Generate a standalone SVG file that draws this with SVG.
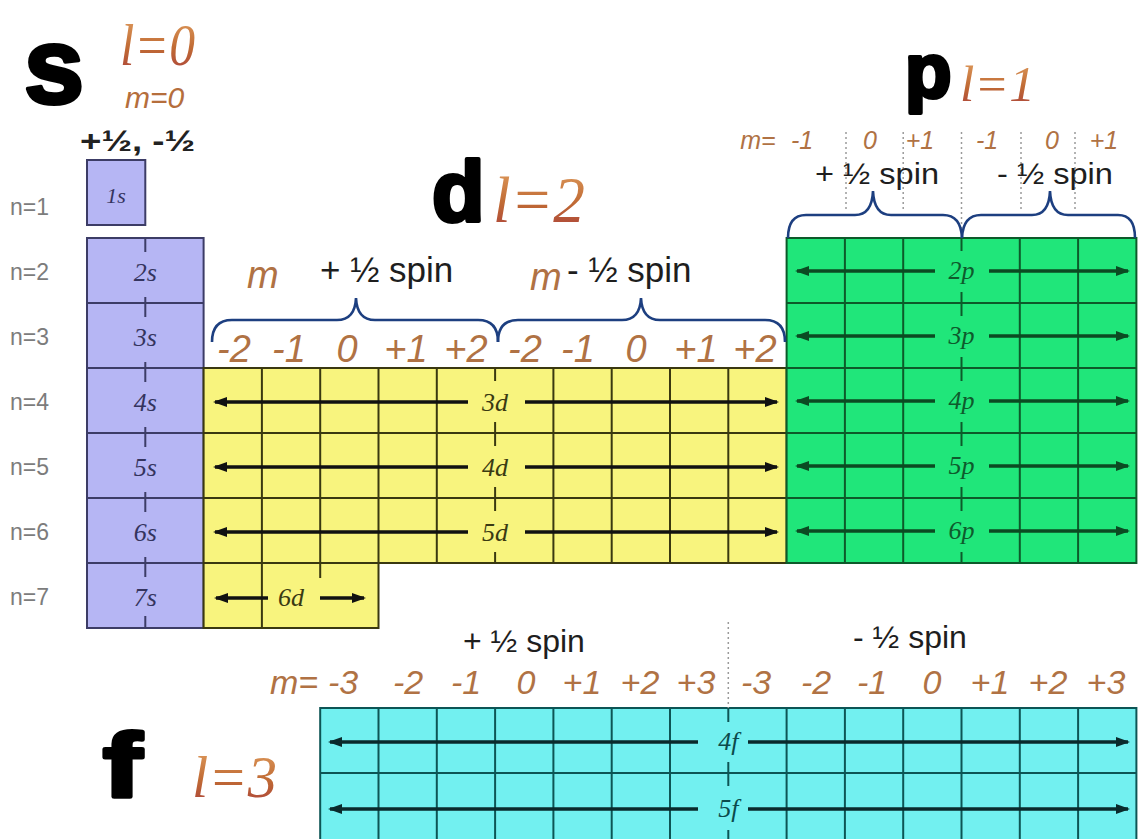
<svg xmlns="http://www.w3.org/2000/svg" width="1139" height="839" viewBox="0 0 1139 839">
<defs>
<style>
.big{font-family:"Liberation Sans",Arial,sans-serif;font-weight:bold;fill:#000;stroke:#000;stroke-width:4;stroke-linejoin:round}
.ell{font-family:"Liberation Serif","Times New Roman",serif;font-style:italic;fill:url(#lg)}
.num{font-family:"Liberation Sans",Arial,sans-serif;font-style:italic;fill:#b07244}
.spin{font-family:"Liberation Sans",Arial,sans-serif;fill:#1e1e1e}
.nlab{font-family:"Liberation Sans",Arial,sans-serif;font-size:23px;fill:#7c7c7c}
.orb{font-family:"Liberation Serif","Times New Roman",serif;font-style:italic;font-size:26px;text-anchor:middle}
.sc{fill:#b6b6f4;stroke:#3c3c66;stroke-width:2}
.sl{stroke:#3c3c66;stroke-width:2}
.dc{fill:#f8f47e;stroke:#3a3810;stroke-width:2}
.dl{stroke:#3a3810;stroke-width:2}
.pc{fill:#20e67a;stroke:#0d5a2a;stroke-width:2}
.pl{stroke:#0d5a2a;stroke-width:2}
.fc{fill:#72f0f0;stroke:#0d5555;stroke-width:2}
.fl{stroke:#0d5555;stroke-width:2}
.dot{stroke:#9a9a9a;stroke-width:1.5;stroke-dasharray:2 3}
.brace{fill:none;stroke:#1d3f80;stroke-width:2.6}
.ak{stroke:#111;stroke-width:3.6;marker-end:url(#mk)}
.ag{stroke:#0b4a22;stroke-width:3.6;marker-end:url(#mg)}
.at{stroke:#0a2a2c;stroke-width:3.6;marker-end:url(#mt)}
</style>
<linearGradient id="lg" x1="0" y1="0" x2="0" y2="1">
<stop offset="0" stop-color="#e3a262"/>
<stop offset="0.55" stop-color="#c06a34"/>
<stop offset="1" stop-color="#a83c3c"/>
</linearGradient>
<marker id="mk" viewBox="0 0 14 10" refX="12" refY="5" markerWidth="14" markerHeight="10" markerUnits="userSpaceOnUse" orient="auto"><path d="M0,0 L14,5 L0,10 z" fill="#111"/></marker>
<marker id="mg" viewBox="0 0 14 10" refX="12" refY="5" markerWidth="14" markerHeight="10" markerUnits="userSpaceOnUse" orient="auto"><path d="M0,0 L14,5 L0,10 z" fill="#0b4a22"/></marker>
<marker id="mt" viewBox="0 0 14 10" refX="12" refY="5" markerWidth="14" markerHeight="10" markerUnits="userSpaceOnUse" orient="auto"><path d="M0,0 L14,5 L0,10 z" fill="#0a2a2c"/></marker>
</defs>
<rect width="1139" height="839" fill="#fff"/>

<g id="titles">
<text class="big" x="24" y="103" font-size="108">s</text>
<text class="ell" x="120" y="65" font-size="60" textLength="75" lengthAdjust="spacingAndGlyphs">l=0</text>
<text class="num" x="125" y="108" font-size="30" style="fill:#b56e3c">m=0</text>
<text x="80" y="151" font-family="Liberation Sans, Arial, sans-serif" font-weight="bold" font-size="30" fill="#222" textLength="115" lengthAdjust="spacingAndGlyphs">+½, -½</text>
<text class="big" x="432" y="221" font-size="86">d</text>
<text class="ell" x="493" y="222" font-size="66" textLength="92" lengthAdjust="spacingAndGlyphs">l=2</text>
<text class="big" x="905" y="97" font-size="76">p</text>
<text class="ell" x="960" y="101" font-size="50" textLength="75" lengthAdjust="spacingAndGlyphs">l=1</text>
<text class="big" transform="translate(103,797) scale(1.3,1)" font-size="90">f</text>
<text class="ell" x="192" y="797" font-size="60" textLength="85" lengthAdjust="spacingAndGlyphs">l=3</text>
</g>

<g id="n-labels" class="nlab">
<text x="10" y="215">n=1</text>
<text x="10" y="280">n=2</text>
<text x="10" y="345">n=3</text>
<text x="10" y="410">n=4</text>
<text x="10" y="475">n=5</text>
<text x="10" y="540">n=6</text>
<text x="10" y="605">n=7</text>
</g>

<g id="s-block">
<rect class="sc" x="87" y="160" width="58.3" height="65"/>
<rect class="sc" x="87" y="238" width="116.6" height="390"/>
<g class="sl">
<line x1="87" y1="303" x2="203.6" y2="303"/>
<line x1="87" y1="368" x2="203.6" y2="368"/>
<line x1="87" y1="433" x2="203.6" y2="433"/>
<line x1="87" y1="498" x2="203.6" y2="498"/>
<line x1="87" y1="563" x2="203.6" y2="563"/>
</g>
<g class="sl" stroke-width="1.5">
<line x1="145.3" y1="238" x2="145.3" y2="252"/>
<line x1="145.3" y1="297" x2="145.3" y2="317"/>
<line x1="145.3" y1="362" x2="145.3" y2="382"/>
<line x1="145.3" y1="427" x2="145.3" y2="447"/>
<line x1="145.3" y1="492" x2="145.3" y2="512"/>
<line x1="145.3" y1="557" x2="145.3" y2="577"/>
<line x1="145.3" y1="616" x2="145.3" y2="628"/>
</g>
<g class="orb" fill="#34345e" font-size="24">
<text x="116" y="203" font-size="22">1s</text>
<text x="145.3" y="281">2s</text>
<text x="145.3" y="346">3s</text>
<text x="145.3" y="411">4s</text>
<text x="145.3" y="476">5s</text>
<text x="145.3" y="541">6s</text>
<text x="145.3" y="606">7s</text>
</g>
</g>

<g id="d-block">
<path class="dc" d="M203.6,368 H786.6 V563 H378.5 V628 H203.6 Z"/>
<g class="dl">
<line x1="203.6" y1="433" x2="786.6" y2="433"/>
<line x1="203.6" y1="498" x2="786.6" y2="498"/>
<line x1="203.6" y1="563" x2="378.5" y2="563"/>
<line x1="261.9" y1="368" x2="261.9" y2="628"/>
<line x1="320.2" y1="368" x2="320.2" y2="578"/>
<line x1="378.5" y1="368" x2="378.5" y2="563"/>
<line x1="436.8" y1="368" x2="436.8" y2="563"/>
<line x1="553.4" y1="368" x2="553.4" y2="563"/>
<line x1="611.7" y1="368" x2="611.7" y2="563"/>
<line x1="670" y1="368" x2="670" y2="563"/>
<line x1="728.3" y1="368" x2="728.3" y2="563"/>
</g>
<g class="dl" stroke-width="1.6">
<line x1="495.1" y1="368" x2="495.1" y2="381"/>
<line x1="495.1" y1="422" x2="495.1" y2="446"/>
<line x1="495.1" y1="487" x2="495.1" y2="511"/>
<line x1="495.1" y1="552" x2="495.1" y2="563"/>
</g>
<g class="orb" fill="#3a3a12">
<text x="495.1" y="411">3d</text>
<text x="495.1" y="476">4d</text>
<text x="495.1" y="541">5d</text>
<text x="291" y="606">6d</text>
</g>
</g>

<g id="d-header">
<text class="num" x="247" y="288" font-size="38">m</text>
<text class="spin" x="320" y="282" font-size="35">+ ½ spin</text>
<text class="num" x="530" y="290" font-size="38">m</text>
<text class="spin" x="567" y="282" font-size="35">- ½ spin</text>
<g class="num" font-size="38" text-anchor="middle">
<text x="234" y="362">-2</text>
<text x="289" y="362">-1</text>
<text x="347" y="362">0</text>
<text x="406" y="362">+1</text>
<text x="466" y="362">+2</text>
<text x="525" y="362">-2</text>
<text x="578" y="362">-1</text>
<text x="636" y="362">0</text>
<text x="696" y="362">+1</text>
<text x="755" y="362">+2</text>
</g>
</g>

<g id="p-block">
<rect class="pc" x="786.6" y="238" width="349.8" height="325"/>
<g class="pl">
<line x1="786.6" y1="303" x2="1136.4" y2="303"/>
<line x1="786.6" y1="368" x2="1136.4" y2="368"/>
<line x1="786.6" y1="433" x2="1136.4" y2="433"/>
<line x1="786.6" y1="498" x2="1136.4" y2="498"/>
<line x1="844.9" y1="238" x2="844.9" y2="563"/>
<line x1="903.2" y1="238" x2="903.2" y2="563"/>
<line x1="1019.8" y1="238" x2="1019.8" y2="563"/>
<line x1="1078.1" y1="238" x2="1078.1" y2="563"/>
</g>
<g class="pl" stroke-width="1.6">
<line x1="961.5" y1="238" x2="961.5" y2="251"/>
<line x1="961.5" y1="292" x2="961.5" y2="316"/>
<line x1="961.5" y1="357" x2="961.5" y2="381"/>
<line x1="961.5" y1="422" x2="961.5" y2="446"/>
<line x1="961.5" y1="487" x2="961.5" y2="511"/>
<line x1="961.5" y1="552" x2="961.5" y2="563"/>
</g>
<g class="orb" fill="#0e5a2c">
<text x="961.5" y="279">2p</text>
<text x="961.5" y="344">3p</text>
<text x="961.5" y="409">4p</text>
<text x="961.5" y="474">5p</text>
<text x="961.5" y="539">6p</text>
</g>
</g>

<g id="p-header">
<g class="dot">
<line x1="846" y1="132" x2="846" y2="212"/>
<line x1="903.2" y1="132" x2="903.2" y2="212"/>
<line x1="961.5" y1="132" x2="961.5" y2="238"/>
<line x1="1021" y1="132" x2="1021" y2="212"/>
<line x1="1075" y1="132" x2="1075" y2="212"/>
</g>
<g class="num" font-size="25" text-anchor="middle">
<text x="758" y="149">m=</text>
<text x="802" y="149">-1</text>
<text x="870" y="149">0</text>
<text x="920" y="149">+1</text>
<text x="987" y="149">-1</text>
<text x="1052" y="149">0</text>
<text x="1104" y="149">+1</text>
</g>
<text class="spin" x="815" y="184" font-size="30" textLength="124" lengthAdjust="spacingAndGlyphs">+ ½ spin</text>
<text class="spin" x="997" y="184" font-size="30" textLength="116" lengthAdjust="spacingAndGlyphs">- ½ spin</text>
</g>

<g id="f-block">
<rect class="fc" x="320.2" y="708" width="816.2" height="140"/>
<g class="fl">
<line x1="320.2" y1="773" x2="1136.4" y2="773"/>
<line x1="378.5" y1="708" x2="378.5" y2="839"/>
<line x1="436.8" y1="708" x2="436.8" y2="839"/>
<line x1="495.1" y1="708" x2="495.1" y2="839"/>
<line x1="553.4" y1="708" x2="553.4" y2="839"/>
<line x1="611.7" y1="708" x2="611.7" y2="839"/>
<line x1="670" y1="708" x2="670" y2="839"/>
<line x1="786.6" y1="708" x2="786.6" y2="839"/>
<line x1="844.9" y1="708" x2="844.9" y2="839"/>
<line x1="903.2" y1="708" x2="903.2" y2="839"/>
<line x1="961.5" y1="708" x2="961.5" y2="839"/>
<line x1="1019.8" y1="708" x2="1019.8" y2="839"/>
<line x1="1078.1" y1="708" x2="1078.1" y2="839"/>
</g>
<g class="fl" stroke-width="1.6">
<line x1="728.3" y1="708" x2="728.3" y2="722"/>
<line x1="728.3" y1="762" x2="728.3" y2="786"/>
<line x1="728.3" y1="830" x2="728.3" y2="839"/>
</g>
<g class="orb" fill="#0b4a4c">
<text x="728.3" y="750">4f</text>
<text x="728.3" y="817">5f</text>
</g>
</g>

<g id="f-header">
<line class="dot" x1="728.3" y1="622" x2="728.3" y2="708"/>
<text class="spin" x="463" y="652" font-size="32">+ ½ spin</text>
<text class="spin" x="853" y="648" font-size="32">- ½ spin</text>
<g class="num" font-size="34" text-anchor="middle">
<text x="294" y="694">m=</text>
<text x="343" y="694">-3</text>
<text x="408" y="694">-2</text>
<text x="466" y="694">-1</text>
<text x="526" y="694">0</text>
<text x="582" y="694">+1</text>
<text x="640" y="694">+2</text>
<text x="696" y="694">+3</text>
<text x="756" y="694">-3</text>
<text x="816" y="694">-2</text>
<text x="872" y="694">-1</text>
<text x="932" y="694">0</text>
<text x="990" y="694">+1</text>
<text x="1048" y="694">+2</text>
<text x="1106" y="694">+3</text>
</g>
</g>

<g id="connectors">
<g id="braces">
<path class="brace" d="M212,342 Q212,320 232,320 L337,320 Q355,320 356,298 Q357,320 375,320 L478,320 Q498,320 498,342"/>
<path class="brace" d="M498,342 Q498,320 518,320 L622,320 Q640,320 641,298 Q642,320 660,320 L765,320 Q785,320 785,342"/>
<path class="brace" d="M788,238 Q788,215 806,215 L855,215 Q872,215 873,191 Q874,215 891,215 L943,215 Q961,215 962,238"/>
<path class="brace" d="M962,238 Q963,215 981,215 L1032,215 Q1049,215 1050,191 Q1051,215 1068,215 L1118,215 Q1135,215 1135,238"/>
</g>
<g id="d-arrows">
<line class="ak" x1="468" y1="402" x2="215" y2="402"/>
<line class="ak" x1="525" y1="402" x2="777" y2="402"/>
<line class="ak" x1="468" y1="467" x2="215" y2="467"/>
<line class="ak" x1="525" y1="467" x2="777" y2="467"/>
<line class="ak" x1="468" y1="532" x2="215" y2="532"/>
<line class="ak" x1="525" y1="532" x2="777" y2="532"/>
<line class="ak" x1="268" y1="598" x2="216" y2="598"/>
<line class="ak" x1="320" y1="598" x2="364" y2="598"/>
</g>
<g id="p-arrows">
<line class="ag" x1="935" y1="271" x2="797" y2="271"/>
<line class="ag" x1="989" y1="271" x2="1128" y2="271"/>
<line class="ag" x1="935" y1="336" x2="797" y2="336"/>
<line class="ag" x1="989" y1="336" x2="1128" y2="336"/>
<line class="ag" x1="935" y1="401" x2="797" y2="401"/>
<line class="ag" x1="989" y1="401" x2="1128" y2="401"/>
<line class="ag" x1="935" y1="466" x2="797" y2="466"/>
<line class="ag" x1="989" y1="466" x2="1128" y2="466"/>
<line class="ag" x1="935" y1="531" x2="797" y2="531"/>
<line class="ag" x1="989" y1="531" x2="1128" y2="531"/>
</g>
<g id="f-arrows">
<line class="at" x1="698" y1="742" x2="330" y2="742"/>
<line class="at" x1="748" y1="742" x2="1128" y2="742"/>
<line class="at" x1="698" y1="809" x2="330" y2="809"/>
<line class="at" x1="748" y1="809" x2="1128" y2="809"/>
</g>
</g>
</svg>
